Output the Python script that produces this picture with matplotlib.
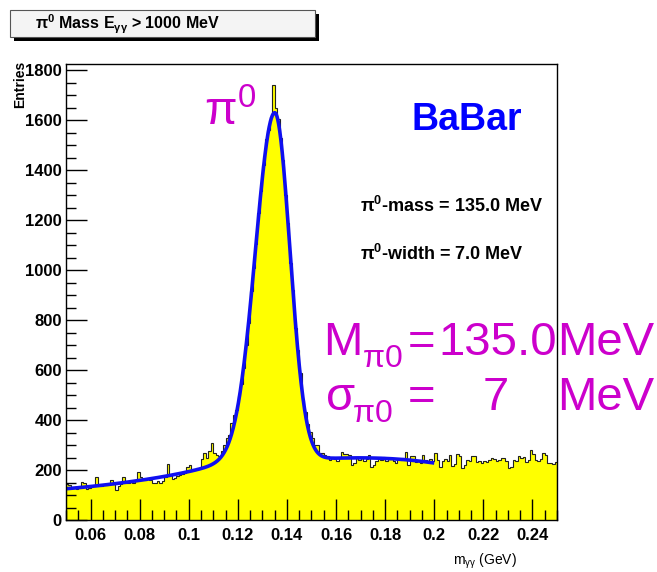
import numpy as np
import matplotlib
matplotlib.use("Agg")
import matplotlib.pyplot as plt
from matplotlib.patches import Rectangle

plt.rcParams['font.family'] = ['Liberation Sans', 'DejaVu Sans']
plt.rcParams['mathtext.fontset'] = 'custom'
plt.rcParams['mathtext.rm'] = 'Liberation Sans'
plt.rcParams['mathtext.it'] = 'Liberation Sans:italic'
plt.rcParams['mathtext.bf'] = 'Liberation Sans:bold'
plt.rcParams['mathtext.default'] = 'regular'

# m(gamma gamma) spectrum, 1 MeV bins from 0.05 to 0.25 GeV
m_lo, m_hi, n_bins = 0.05, 0.25, 200
entries = [
    144, 140, 128, 132, 126, 135, 153, 148, 124, 128,
    138, 140, 173, 142, 136, 141, 139, 148, 160, 146,
    120, 138, 145, 173, 150, 147, 155, 150, 160, 193,
    172, 165, 160, 168, 162, 150, 149, 155, 150, 158,
    172, 224, 180, 164, 168, 176, 182, 186, 190, 212,
    220, 205, 200, 210, 207, 245, 269, 250, 278, 307,
    268, 262, 258, 275, 300, 330, 342, 390, 420, 440,
    495, 545, 610, 700, 790, 915, 1010, 1105, 1230, 1315,
    1420, 1525, 1560, 1612, 1740, 1650, 1605, 1530, 1440, 1300,
    1190, 1030, 920, 770, 680, 590, 480, 432, 385, 352,
    330, 300, 300, 268, 270, 262, 258, 240, 252, 245,
    238, 250, 271, 266, 263, 260, 220, 228, 248, 242,
    250, 238, 245, 260, 213, 222, 235, 248, 240, 252,
    236, 245, 250, 238, 230, 246, 240, 248, 273, 222,
    258, 255, 232, 236, 228, 262, 240, 235, 245, 238,
    267, 242, 213, 236, 244, 238, 260, 215, 225, 265,
    258, 210, 222, 240, 236, 255, 258, 233, 236, 230,
    238, 232, 240, 247, 245, 238, 242, 250, 248, 236,
    207, 212, 240, 238, 255, 250, 252, 232, 240, 280,
    266, 240, 238, 244, 267, 262, 227, 230, 226, 233,
]

# fit result: asymmetric gaussian peak on a cubic background
fit_mass = 0.135
fit_width = 0.007
fit_asym = 0.0008
fit_amp = 1400.0
fit_tail_amp = 40.0
fit_tail_sigma = 0.020
fit_bkg = [125.0, 116.8, 291.2, -305.1]   # cubic in t = (m - 0.05) / 0.15
fit_range = (0.05, 0.20)


def fit_func(m):
    t = (m - 0.05) / 0.15
    bkg = np.polyval(fit_bkg[::-1], t)
    d = m - fit_mass
    sig_l = fit_width + fit_asym
    sig_r = fit_width - fit_asym
    left = ((fit_amp - fit_tail_amp) * np.exp(-0.5 * (d / sig_l) ** 2)
            + fit_tail_amp * np.exp(-0.5 * (d / fit_tail_sigma) ** 2))
    right = fit_amp * np.exp(-0.5 * (d / sig_r) ** 2)
    return bkg + np.where(d < 0, left, right)


W, H = 657, 572


def px(x, y):
    return x / W, 1 - y / H


fig = plt.figure(figsize=(W / 100, H / 100), dpi=100)
ax = fig.add_axes([66 / W, 1 - 520 / H, 491 / W, 456 / H])

edges = np.linspace(m_lo, m_hi, n_bins + 1)
ax.stairs(entries, edges, fill=True, color='#ffff00', lw=0)
ax.stairs(entries, edges, color='#222222', lw=0.8)

mm = np.linspace(fit_range[0], fit_range[1], 1500)
ax.plot(mm, fit_func(mm), color='#1010f0', lw=2.6, solid_capstyle='butt')

ax.set_xlim(m_lo, m_hi)
ax.set_ylim(0, 1824)

xt = np.arange(0.06, 0.2401, 0.02)
ax.set_xticks(xt)
ax.set_xticklabels(['%g' % round(v, 2) for v in xt])
ax.set_xticks(np.arange(0.05, 0.2501, 0.005), minor=True)
ax.set_yticks(np.arange(0, 1801, 200))
ax.set_yticks(np.arange(0, 1801, 50), minor=True)

ax.tick_params(which='both', direction='in', top=False, right=False, width=1)
ax.tick_params(which='major', length=15, labelsize=12)
ax.tick_params(which='minor', length=7.5)
ax.tick_params(axis='x', pad=6)
ax.tick_params(axis='y', pad=3)
for lab in ax.get_xticklabels() + ax.get_yticklabels():
    lab.set_fontweight('bold')
for sp in ax.spines.values():
    sp.set_linewidth(1.0)

# title box with shadow
fig.patches.append(Rectangle(px(14, 41), 305 / W, 27 / H, transform=fig.transFigure,
                             facecolor='black', edgecolor='none', zorder=1))
fig.patches.append(Rectangle(px(10, 37), 305 / W, 27 / H, transform=fig.transFigure,
                             facecolor='#f4f4f4', edgecolor='#555555', lw=0.8, zorder=2))
fig.text(*px(35, 29), r'$\pi^{\mathbf{0}}$ Mass E$_{\gamma\gamma}$ > 1000 MeV',
         fontsize=11.5, fontweight='bold', va='baseline', ha='left', zorder=3)

fig.text(*px(20, 61), 'Entries', rotation=90, fontsize=10, fontweight='bold',
         ha='center', va='top')
fig.text(*px(517, 565), r'm$_{\gamma\gamma}$ (GeV)', fontsize=10,
         ha='right', va='baseline')

fig.text(*px(412, 130), 'BaBar', color='#0000ff', fontsize=27,
         fontweight='bold', va='baseline')
fig.text(*px(360, 212), r'$\pi^{\mathbf{0}}$-mass = 135.0 MeV', fontsize=13,
         fontweight='bold', va='baseline')
fig.text(*px(360, 260), r'$\pi^{\mathbf{0}}$-width = 7.0 MeV', fontsize=13,
         fontweight='bold', va='baseline')

mag = '#cc00cc'
big, small = 34, 23
fig.text(*px(204, 125), r'$\pi^0$', color=mag, fontsize=big, va='baseline')

fig.text(*px(323, 355), 'M', color=mag, fontsize=big, va='baseline')
fig.text(*px(362, 367), r'$\pi$0', color=mag, fontsize=small, va='baseline')
fig.text(*px(408, 355), '=', color=mag, fontsize=big, va='baseline')
fig.text(*px(438, 355), '135.0', color=mag, fontsize=big, va='baseline')
fig.text(*px(557, 355), 'MeV', color=mag, fontsize=big, va='baseline')

fig.text(*px(325, 410), r'$\sigma$', color=mag, fontsize=big, va='baseline')
fig.text(*px(352, 422), r'$\pi$0', color=mag, fontsize=small, va='baseline')
fig.text(*px(408, 410), '=', color=mag, fontsize=big, va='baseline')
fig.text(*px(483, 410), '7', color=mag, fontsize=big, va='baseline')
fig.text(*px(557, 410), 'MeV', color=mag, fontsize=big, va='baseline')

fig.savefig('out.png', dpi=100)
